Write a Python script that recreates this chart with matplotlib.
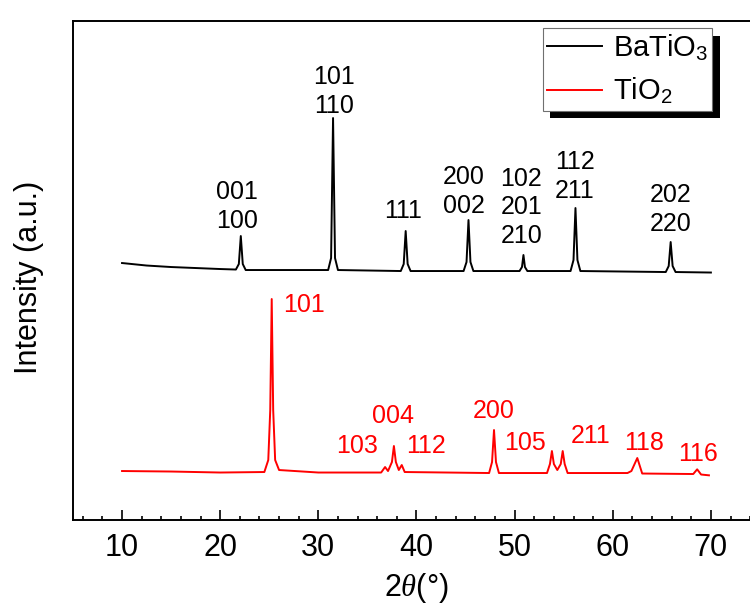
import matplotlib
matplotlib.use("Agg")
import matplotlib.pyplot as plt
from matplotlib.ticker import MultipleLocator
from matplotlib.patches import Rectangle
from matplotlib.transforms import IdentityTransform

plt.rcParams["font.family"] = ["Liberation Sans", "DejaVu Sans"]
plt.rcParams["mathtext.fontset"] = "custom"
plt.rcParams["mathtext.rm"] = "Liberation Sans"
plt.rcParams["mathtext.it"] = "Liberation Serif:italic"

# BaTiO3 pattern, points (2theta, intensity a.u.)
bto_x = [10.0, 11.0, 12.5, 15.0, 17.5, 20.0, 21.6, 21.9, 22.1, 22.3, 22.6, 31.0, 31.3, 31.5, 31.7, 32.0,
         38.4, 38.7, 38.9, 39.1, 39.4, 44.8, 45.1, 45.3, 45.5, 45.8, 50.5, 50.75, 50.9, 51.05, 51.3,
         55.7, 56.0, 56.2, 56.4, 56.7, 65.4, 65.7, 65.9, 66.1, 66.4, 70.0]
bto_y = [257, 256, 254.5, 253, 252, 251, 250.5, 256, 284, 256, 250, 250, 262, 402, 262, 250,
         249, 256, 289, 256, 249, 249, 258, 300, 258, 249, 249, 253, 265, 253, 249,
         249, 260, 312, 260, 249, 248, 254, 278, 254, 248, 247.5]

# TiO2 (anatase) pattern
tio_x = [10.0, 15.0, 20.0, 24.5, 24.9, 25.1, 25.25, 25.4, 25.6, 26.0, 30.0, 36.4, 36.8, 37.1,
         37.5, 37.7, 37.9, 38.2, 38.5, 38.8, 47.4, 47.7, 47.9, 48.1, 48.4, 53.3, 53.6, 53.8, 54.0,
         54.35, 54.7, 54.9, 55.1, 55.4, 61.5, 61.9, 62.5, 63.0, 68.2, 68.6, 69.0, 69.8]
tio_y = [49, 48.5, 47.5, 48, 60, 110, 221, 110, 60, 50, 47.5, 47.5, 53, 49,
         58, 74, 58, 50, 55, 48, 47, 58, 90, 58, 47, 47, 56, 69, 56,
         50, 56, 69, 56, 47, 47, 49, 62, 46.5, 46, 50.7, 45.5, 44.7]

# hkl labels: text, x position, y of the lower text edge
bto_labels = ["001\n100", "101\n110", "111", "200\n002", "102\n201\n210", "112\n211", "202\n220"]
bto_lab_x = [21.7, 31.6, 38.6, 44.8, 50.7, 56.15, 65.9]
bto_lab_y = [287, 402, 297, 302, 272, 317, 284]

tio_labels = ["101", "103", "004", "112", "200", "105", "211", "118", "116"]
tio_lab_x = [28.5, 33.9, 37.6, 41.0, 47.9, 51.1, 57.7, 63.2, 68.65]
tio_lab_y = [203, 62, 92, 62, 97, 65, 72, 65, 54]

fig = plt.figure(figsize=(7.5, 6.08), dpi=100)
ax = fig.add_axes([0.0973, 0.1447, 0.916, 0.8207])

ax.plot(bto_x, bto_y, color="black", linewidth=1.4, label="BaTiO$_3$")
ax.plot(tio_x, tio_y, color="#ff0000", linewidth=1.4, label="TiO$_2$")

for s, x, y in zip(bto_labels, bto_lab_x, bto_lab_y):
    ax.text(x, y, s, ha="center", va="bottom", fontsize=18, linespacing=1.25, color="black")
for s, x, y in zip(tio_labels, tio_lab_x, tio_lab_y):
    ax.text(x, y, s, ha="center", va="bottom", fontsize=18, color="#ff0000")

ax.set_xlim(5, 75)
ax.set_ylim(0, 499)
ax.xaxis.set_major_locator(MultipleLocator(10))
ax.xaxis.set_minor_locator(MultipleLocator(2))
ax.tick_params(axis="x", which="both", direction="in", top=False, labelsize=22, pad=9, width=1.2)
ax.tick_params(axis="x", which="major", length=7)
ax.tick_params(axis="x", which="minor", length=3)
ax.set_yticks([])
for sp in ax.spines.values():
    sp.set_linewidth(1.4)

ax.set_xlabel("2$\\theta$(°)", fontsize=22, labelpad=6)
ax.set_ylabel("Intensity (a.u.)", fontsize=22)
ax.yaxis.set_label_coords(-0.042, 0.487)

leg = ax.legend(loc="upper left", bbox_to_anchor=(0.7236, 0.9535), bbox_transform=fig.transFigure,
                borderaxespad=0, fontsize=21, frameon=True, fancybox=False, framealpha=1,
                edgecolor="#707070", handlelength=1.9, handletextpad=0.35, borderpad=0.15,
                labelspacing=0.45)
leg.get_frame().set_linewidth(0.8)

# solid black drop shadow behind the legend box
fig.canvas.draw()
bb = leg.get_frame().get_window_extent()
shadow = Rectangle((bb.x0 + 7.5, bb.y0 - 7.5), bb.width, bb.height, transform=IdentityTransform(),
                   facecolor="black", edgecolor="none", zorder=4.9, clip_on=False)
ax.add_patch(shadow)

fig.savefig("out.png", dpi=100)
